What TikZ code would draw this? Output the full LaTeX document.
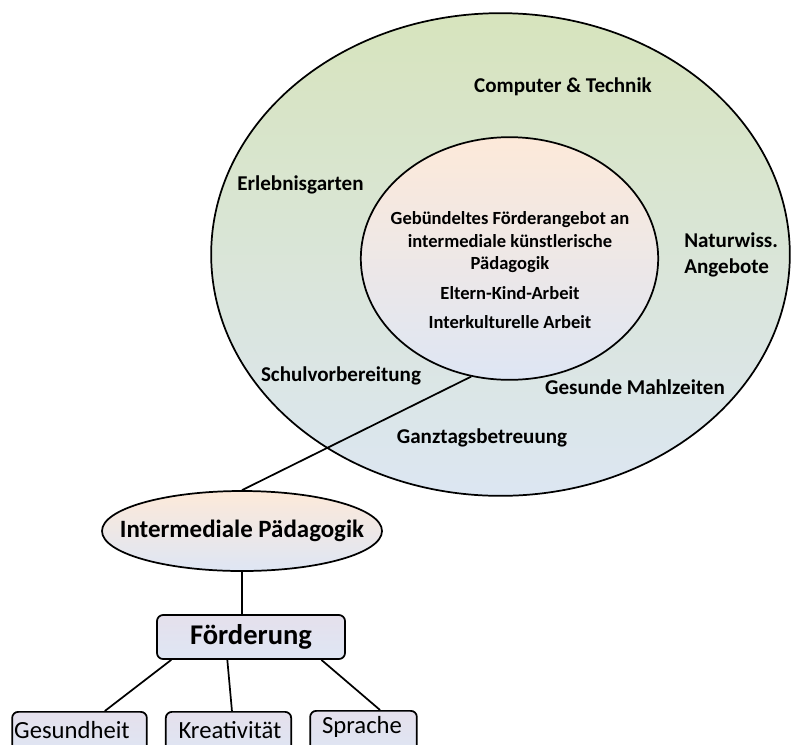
\documentclass[tikz,border=0pt]{standalone}
\usepackage{fontspec}
\setmainfont{Carlito}
\usetikzlibrary{positioning,calc,shapes.geometric}
\definecolor{ringgreen}{RGB}{215,228,189}
\definecolor{ringblue}{RGB}{220,230,242}
\definecolor{peach}{RGB}{253,233,217}
\definecolor{lilac}{RGB}{229,224,236}
\definecolor{paleblue}{RGB}{222,230,244}

\begin{document}
\begin{tikzpicture}[x=0.75pt,y=-0.75pt,line width=1.3pt,
    ring/.style={ellipse,draw,inner sep=0pt},
    lbl/.style={font=\bfseries\fontsize{15.8}{19}\selectfont,align=center},
    box/.style={draw,rounded corners=1.6mm,inner sep=0pt,top color=lilac,bottom color=paleblue,anchor=north},
    boxtext/.style={anchor=base,inner sep=0pt,font=\fontsize{18.5}{21}\selectfont}]
  \useasboundingbox (0,0) rectangle (793,744);
  \clip (0,0) rectangle (793,744);
  % circles
  \node[ring,minimum width=434pt,minimum height=362pt,top color=ringgreen,middle color=ringgreen!75!ringblue,bottom color=ringblue] (outer) at (500.5,254.5) {};
  \node[ring,minimum width=223pt,minimum height=182pt,top color=peach,middle color=peach!85!paleblue,bottom color=paleblue] (inner) at (509.5,258.5) {};
  \node[lbl,font=\bfseries\fontsize{13.9}{17}\selectfont] (core) at (510,270) {Gebündeltes Förderangebot an\\intermediale künstlerische\\Pädagogik\\[5pt]Eltern-Kind-Arbeit\\[5pt]Interkulturelle Arbeit};
  \node[lbl] (tech) at (563,87) {Computer \& Technik};
  \node[lbl] (garten) at (300.5,185) {Erlebnisgarten};
  \node[lbl,align=left,anchor=west] (natur) at (679,255) {Naturwiss.\\Angebote};
  \node[lbl] (schule) at (341,376) {Schulvorbereitung};
  \node[lbl] (essen) at (635,387) {Gesunde Mahlzeiten};
  \node[lbl] (ganztag) at (482,438) {Ganztagsbetreuung};
  % tree
  \node[ring,minimum width=210pt,minimum height=60pt,top color=peach,bottom color=paleblue] (ip) at (242,531) {};
  \node[font=\bfseries\fontsize{18.7}{21}\selectfont] (iptext) at (ip.center) {Intermediale Pädagogik};
  \node[box,minimum width=141pt,minimum height=33pt,anchor=center,font=\bfseries\fontsize{21.4}{24}\selectfont] (foe) at (251,637) {Förderung};
  \node[box,minimum width=101pt,minimum height=33pt] (ges) at (79.5,711) {};
  \node[box,minimum width=94pt,minimum height=33pt] (kre) at (228.5,711) {};
  \node[box,minimum width=80pt,minimum height=33pt] (spr) at (363.5,710) {};
  \node[boxtext] (gestext) at (72,738) {Gesundheit};
  \node[boxtext] (kretext) at (230,738) {Kreativität};
  \node[boxtext] (sprtext) at (362,733) {Sprache};
  \draw (inner.252) -- (ip.north);
  \draw (ip.south) -- (ip.south |- foe.north);
  \draw (foe.196) -- ([xshift=19pt]ges.north);
  \draw (foe.224) -- ([xshift=2.6pt]kre.north);
  \draw (foe.342) -- ([xshift=12.4pt]spr.north);
\end{tikzpicture}
\end{document}
